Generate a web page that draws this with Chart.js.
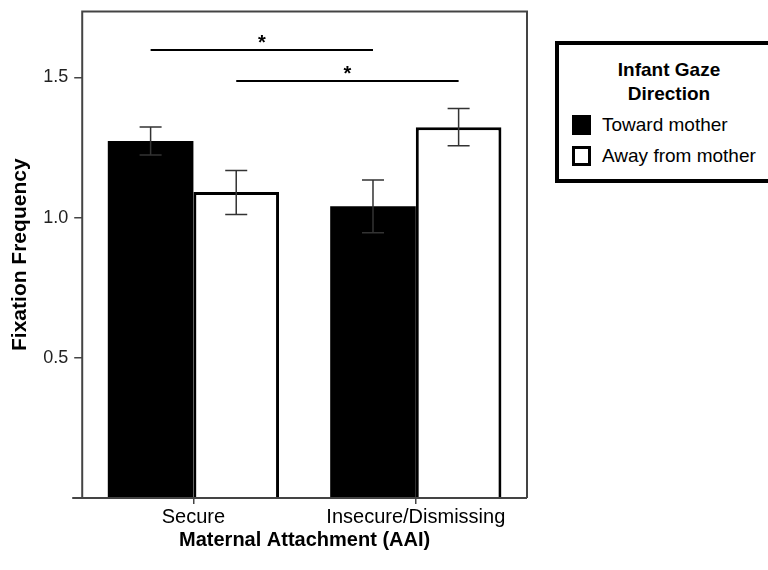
<!DOCTYPE html>
<html>
<head>
<meta charset="utf-8">
<script src="https://cdn.jsdelivr.net/npm/chart.js@4.4.1/dist/chart.umd.min.js"></script>
<style>
    html, body { margin: 0; padding: 0; background: #fff; overflow: hidden; }
    #wrap { position: relative; width: 768px; height: 570px; }
    #legend {
        position: absolute; left: 555px; top: 41px; width: 230px; height: 134px;
        border: 4px solid #000; background: #fff;
        font-family: "Liberation Sans", Arial, sans-serif; color: #000;
    }
    #legend .title { position: absolute; left: 0; width: 220px; text-align: center; font-weight: bold; font-size: 19px; line-height: 24px; top: 13px; }
    #legend .item { position: absolute; left: 13px; font-size: 19px; line-height: 22px; white-space: nowrap; }
    #legend .box { display: inline-block; width: 19px; height: 20px; vertical-align: -4px; margin-right: 11px; box-sizing: border-box; }
</style>
</head>
<body>
<div id="wrap">
    <canvas id="chart" width="768" height="570"></canvas>
    <div id="legend">
        <div class="title">Infant Gaze<br>Direction</div>
        <div class="item" style="top:69px"><span class="box" style="background:#000"></span>Toward mother</div>
        <div class="item" style="top:100px"><span class="box" style="border:3px solid #000;background:#fff"></span>Away from mother</div>
    </div>
</div>
<script>
// Dados do gráfico
const categories = ['Secure', 'Insecure/Dismissing'];
const towardMother = [1.273, 1.040];
const awayFromMother = [1.091, 1.322];
const towardUpper = [1.323, 1.134];
const towardLower = [1.223, 0.946];
const awayUpper = [1.168, 1.389];
const awayLower = [1.011, 1.256];
const yTicks = [0.5, 1.0, 1.5];

// Comparações significativas: [dataset, categoria] -> [dataset, categoria], nível no eixo y
const sigFrom = [[0, 0], [1, 0]];
const sigTo = [[0, 1], [1, 1]];
const sigLevels = [1.598, 1.486];

const errUpper = [towardUpper, awayUpper];
const errLower = [towardLower, awayLower];

/**
 * Desenha a moldura da área do gráfico
 */
const framePlugin = {
    id: 'frame',
    afterDraw(chart) {
        const a = chart.chartArea;
        const c = chart.ctx;
        c.save();
        c.strokeStyle = '#444';
        c.lineWidth = 2;
        c.beginPath();
        c.moveTo(a.left, a.bottom);
        c.lineTo(a.left, a.top);
        c.lineTo(a.right, a.top);
        c.lineTo(a.right, a.bottom);
        c.stroke();
        c.beginPath();
        c.moveTo(a.left - 10, a.bottom);
        c.lineTo(a.right, a.bottom);
        c.stroke();
        c.restore();
    }
};

/**
 * Barras de erro a partir dos arrays de limites
 */
const errorBarPlugin = {
    id: 'errorBars',
    afterDatasetsDraw(chart) {
        const c = chart.ctx;
        const y = chart.scales.y;
        c.save();
        c.strokeStyle = '#333';
        c.lineWidth = 1.5;
        chart.data.datasets.forEach((ds, i) => {
            chart.getDatasetMeta(i).data.forEach((bar, j) => {
                const top = y.getPixelForValue(errUpper[i][j]);
                const bot = y.getPixelForValue(errLower[i][j]);
                c.beginPath();
                c.moveTo(bar.x, top); c.lineTo(bar.x, bot);
                c.moveTo(bar.x - 11, top); c.lineTo(bar.x + 11, top);
                c.moveTo(bar.x - 11, bot); c.lineTo(bar.x + 11, bot);
                c.stroke();
            });
        });
        c.restore();
    }
};

/**
 * Linhas de significância com asterisco
 */
const sigPlugin = {
    id: 'significance',
    afterDatasetsDraw(chart) {
        const c = chart.ctx;
        const y = chart.scales.y;
        c.save();
        c.strokeStyle = '#000';
        c.lineWidth = 2;
        c.fillStyle = '#000';
        c.font = 'bold 20px "Liberation Sans", Arial, sans-serif';
        c.textAlign = 'center';
        c.textBaseline = 'alphabetic';
        sigLevels.forEach((lvl, k) => {
            const x1 = chart.getDatasetMeta(sigFrom[k][0]).data[sigFrom[k][1]].x;
            const x2 = chart.getDatasetMeta(sigTo[k][0]).data[sigTo[k][1]].x;
            const py = Math.round(y.getPixelForValue(lvl));
            c.beginPath();
            c.moveTo(x1, py); c.lineTo(x2, py);
            c.stroke();
            c.fillText('*', (x1 + x2) / 2, py - 1);
        });
        c.restore();
    }
};

const font = '"Liberation Sans", Arial, sans-serif';

new Chart(document.getElementById('chart'), {
    type: 'bar',
    data: {
        labels: categories,
        datasets: [{
            label: 'Toward mother',
            data: towardMother,
            backgroundColor: '#000',
            borderColor: '#000',
            borderWidth: 0
        }, {
            label: 'Away from mother',
            data: awayFromMother,
            backgroundColor: '#fff',
            borderColor: '#000',
            borderWidth: 3
        }]
    },
    options: {
        responsive: false,
        animation: false,
        devicePixelRatio: 1,
        categoryPercentage: 0.77,
        barPercentage: 1.0,
        layout: { padding: { left: 8, top: 4, right: 241, bottom: 20 } },
        plugins: {
            legend: { display: false },
            tooltip: { enabled: false }
        },
        scales: {
            y: {
                min: 0,
                max: 1.735,
                afterBuildTicks: axis => { axis.ticks = yTicks.map(v => ({ value: v })); },
                ticks: {
                    color: '#222',
                    font: { family: font, size: 18, lineHeight: 0.6 },
                    padding: 6,
                    callback: v => v.toFixed(1)
                },
                grid: { drawOnChartArea: false, drawTicks: true, tickLength: 8, color: '#444', lineWidth: 1.5 },
                border: { display: false },
                title: {
                    display: true,
                    text: 'Fixation Frequency',
                    color: '#000',
                    font: { family: font, size: 21, weight: 'bold' },
                    padding: { top: 0, bottom: 4 }
                }
            },
            x: {
                ticks: {
                    color: '#000',
                    font: { family: font, size: 20 },
                    padding: 1
                },
                grid: { offset: false, drawOnChartArea: false, drawTicks: true, tickLength: 6, color: '#444', lineWidth: 1.5 },
                border: { display: false },
                title: {
                    display: true,
                    text: 'Maternal Attachment (AAI)',
                    color: '#000',
                    font: { family: font, size: 20, weight: 'bold', lineHeight: 1.0 },
                    padding: { top: 0, bottom: 0 }
                }
            }
        }
    },
    plugins: [framePlugin, errorBarPlugin, sigPlugin]
});
</script>
</body>
</html>
